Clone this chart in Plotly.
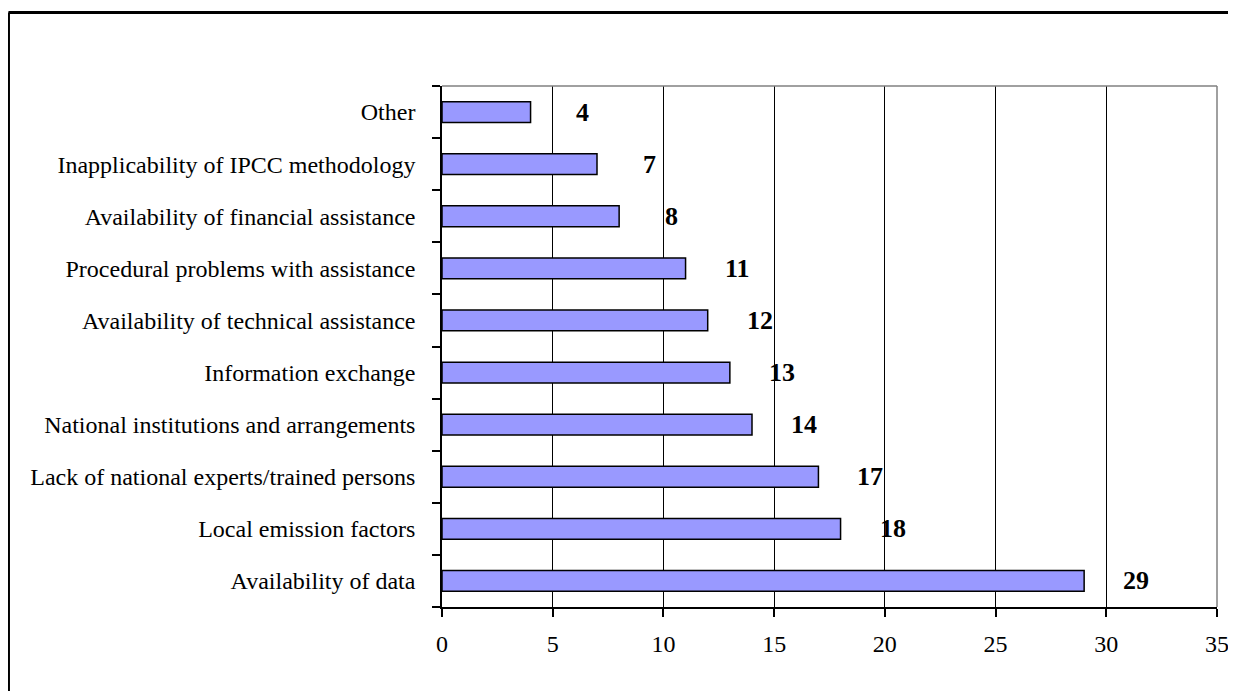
import plotly.graph_objects as go

categories = [
    "Availability of data",
    "Local emission factors",
    "Lack of national experts/trained persons",
    "National institutions and arrangements",
    "Information exchange",
    "Availability of technical assistance",
    "Procedural problems with assistance",
    "Availability of financial assistance",
    "Inapplicability of IPCC methodology",
    "Other",
]
values = [29, 18, 17, 14, 13, 12, 11, 8, 7, 4]
x_ticks = [0, 5, 10, 15, 20, 25, 30, 35]

FONT = "Liberation Serif, Times New Roman, serif"

fig = go.Figure()
fig.add_trace(go.Bar(
    y=categories, x=values, orientation="h",
    marker=dict(color="#9999FF", line=dict(color="black", width=1.5)),
    hoverinfo="x+y",
))

annotations = []
for c, v in zip(categories, values):
    annotations.append(dict(
        x=v, y=c, xref="x", yref="y", text=f"<b>{v}</b>", showarrow=False,
        xanchor="center", yanchor="middle", xshift=52,
        font=dict(family=FONT, size=26, color="black"),
    ))

shapes = [
    # gray frame top and right of plot area
    dict(type="line", xref="paper", yref="paper", x0=0, x1=1, y0=1, y1=1,
         line=dict(color="#808080", width=1.5), layer="above"),
    dict(type="line", xref="paper", yref="paper", x0=1, x1=1, y0=0, y1=1,
         line=dict(color="#808080", width=1.5), layer="above"),
    # outer figure border (left and top visible)
    dict(type="line", xref="paper", yref="paper", x0=-0.5594, x1=-0.5594, y0=1.1411, y1=-0.2,
         line=dict(color="black", width=3)),
    dict(type="line", xref="paper", yref="paper", x0=-0.5594, x1=1.05, y0=1.1411, y1=1.1411,
         line=dict(color="black", width=3)),
]

# page body has an 8px margin: size the figure so the page fits the window
fig.update_layout(
    width=1220, height=683,
    margin=dict(l=434, r=11, t=78, b=84, autoexpand=False),
    paper_bgcolor="white", plot_bgcolor="white",
    bargap=0.6,
    showlegend=False,
    font=dict(family=FONT, size=24, color="black"),
    annotations=annotations,
    shapes=shapes,
    xaxis=dict(
        range=[0, 35], tickvals=x_ticks, ticktext=[str(t) for t in x_ticks],
        showgrid=True, gridcolor="black", gridwidth=1,
        showline=True, linecolor="black", linewidth=1.5,
        ticks="outside", ticklen=8, tickcolor="black", tickwidth=1.5,
        ticklabelstandoff=6, ticklabeloverflow="allow", automargin=False,
        tickfont=dict(family=FONT, size=24, color="black"),
        zeroline=False, fixedrange=True,
    ),
    yaxis=dict(
        categoryorder="array", categoryarray=categories,
        showline=True, linecolor="black", linewidth=1.5,
        ticks="outside", ticklen=8, tickcolor="black", tickwidth=1.5,
        tickson="boundaries", ticklabelstandoff=20, automargin=False,
        tickfont=dict(family=FONT, size=24, color="black"),
        showgrid=False, fixedrange=True,
    ),
)

fig.write_html("out.html")
